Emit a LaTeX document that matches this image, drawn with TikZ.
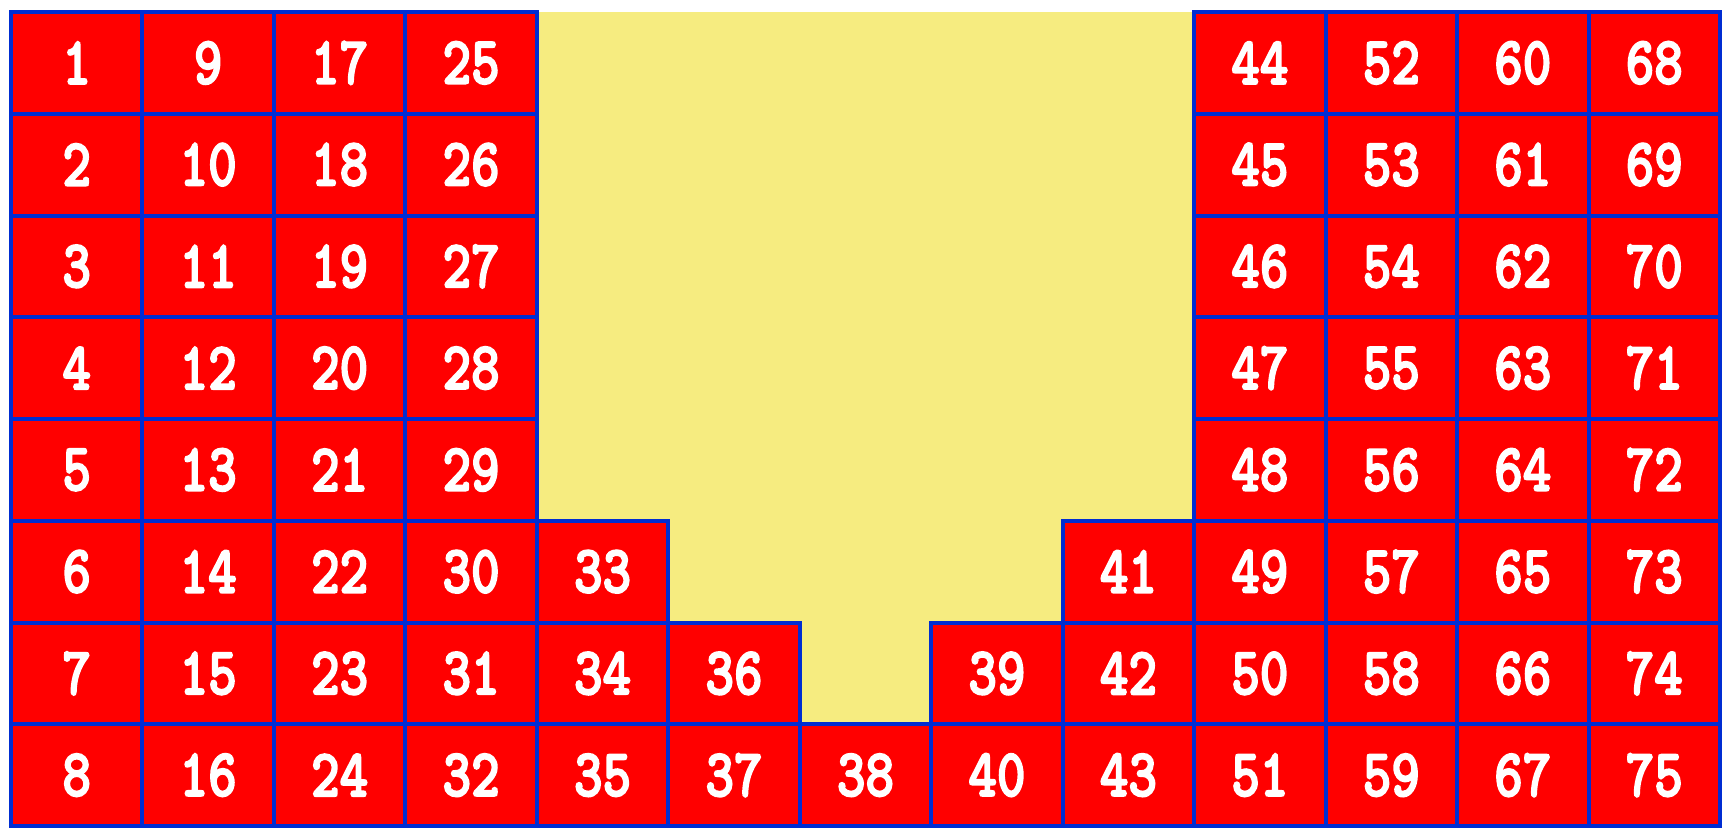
\documentclass[tikz,border=0pt]{standalone}
\usepackage{fontspec}
\newfontfamily\cellfont{lmmonolt10-bold.otf}[FakeStretch=0.8,FakeBold=2.5]
\definecolor{cellred}{RGB}{255,0,0}
\definecolor{gridblue}{RGB}{0,45,210}
\definecolor{bgyellow}{RGB}{246,236,128}
\begin{document}
\begin{tikzpicture}[x=1pt,y=-1pt,
  cell/.style={draw=gridblue,fill=cellred,line width=4pt,minimum width=131.46pt,minimum height=101.75pt,
    inner sep=0pt,text=white,font=\cellfont\fontsize{68}{68}\selectfont,anchor=center}]
\useasboundingbox (0,0) rectangle (1731,837);
\fill[white] (0,0) rectangle (1731,837);
\fill[bgyellow] (11,12) rectangle (1720,826);
\newcounter{cellno}
\foreach \c/\first in {0/0,1/0,2/0,3/0,4/5,5/6,6/7,7/6,8/5,9/0,10/0,11/0,12/0}{
  \foreach \r in {\first,...,7}{
    \stepcounter{cellno}
    \node[cell] (n\thecellno) at ({11+131.46*(\c+0.5)},{12+101.75*(\r+0.5)}) {\thecellno};
  }
}
\end{tikzpicture}
\end{document}
